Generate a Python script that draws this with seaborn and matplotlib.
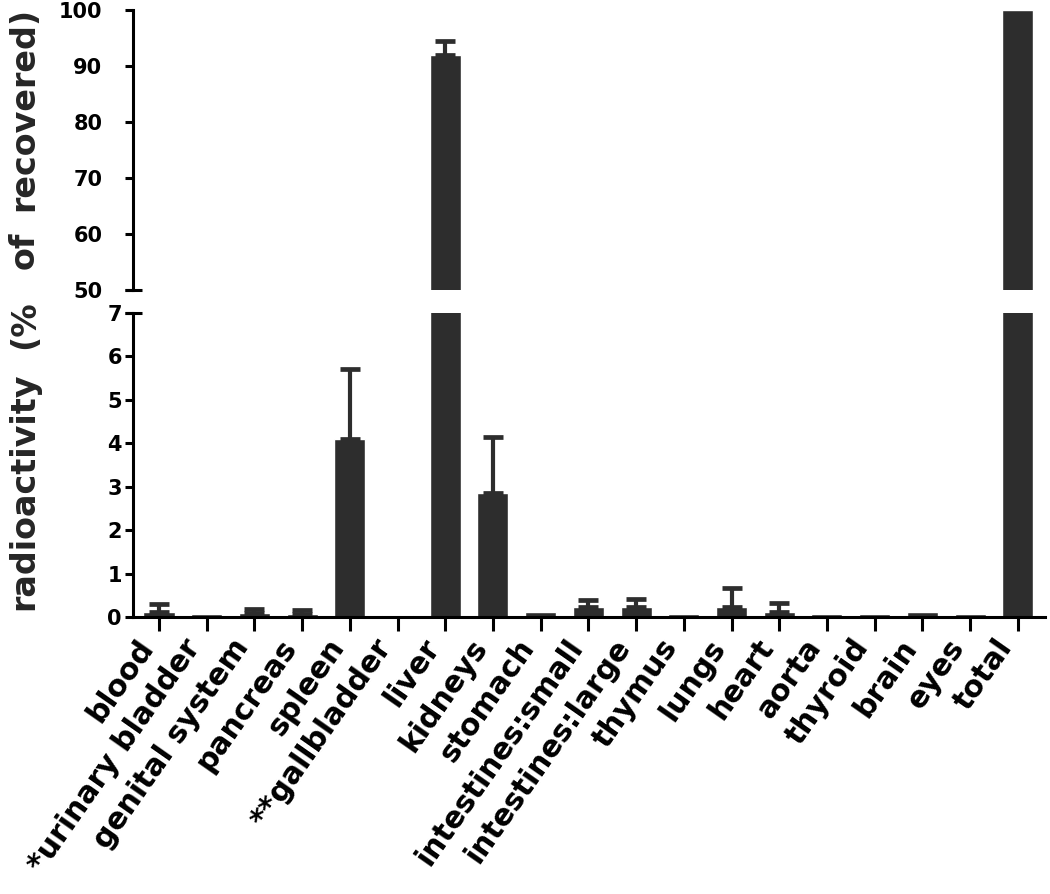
import numpy as np
import pandas as pd
import matplotlib
matplotlib.use("Agg")
import matplotlib.pyplot as plt
import seaborn as sns

organs = ["blood", "*urinary bladder", "genital system", "pancreas", "spleen",
          "**gallbladder", "liver", "kidneys", "stomach", "intestines:small",
          "intestines:large", "thymus", "lungs", "heart", "aorta", "thyroid",
          "brain", "eyes", "total"]
means = np.array([0.11, 0.07, 0.10, 0.08, 4.1, 0.05, 92.0, 2.85, 0.12, 0.22,
                  0.22, 0.07, 0.24, 0.12, 0.07, 0.07, 0.11, 0.07, 100.0])
errs = np.array([0.20, 0.0, 0.08, 0.08, 1.6, 0.0, 2.5, 1.3, 0.0, 0.16,
                 0.20, 0.0, 0.43, 0.20, 0.0, 0.0, 0.0, 0.0, 0.0])

top_ticks = [50, 60, 70, 80, 90, 100]
bot_ticks = [0, 1, 2, 3, 4, 5, 6, 7]
ylabel_words = ["radioactivity", "(%", "of", "recovered)"]

sns.set_theme(style="ticks")
plt.rcParams['font.family'] = ['DejaVu Sans']
plt.rcParams['font.weight'] = 'bold'

W, H = 1050, 894
fig = plt.figure(figsize=(W / 100, H / 100), dpi=100)
L = 133 / W
R = 1045 / W
ax_top = fig.add_axes([L, 1 - 290 / H, R - L, 280 / H])
ax_bot = fig.add_axes([L, 1 - 617 / H, R - L, 304 / H])

df = pd.DataFrame({"organ": organs, "value": means})
color = "#2d2d2d"
x = np.arange(len(organs))
mask = errs > 0

for ax in (ax_top, ax_bot):
    sns.barplot(data=df, x="organ", y="value", color=color, width=0.65,
                saturation=1, errorbar=None, ax=ax)
    ax.errorbar(x[mask], means[mask],
                yerr=[np.zeros(mask.sum()), errs[mask]],
                fmt="none", ecolor=color, elinewidth=3.0, capsize=7.5,
                capthick=3.4)
    ax.set_xlim(-0.545, 18.57)
    ax.set_xlabel("")
    ax.set_ylabel("")
    for s in ("top", "right"):
        ax.spines[s].set_visible(False)
    for s in ("left", "bottom"):
        ax.spines[s].set_linewidth(2.2)
        ax.spines[s].set_color("black")

# top panel
ax_top.set_ylim(50, 100)
ax_top.set_yticks(top_ticks)
ax_top.set_yticklabels([str(t) for t in top_ticks], fontsize=15, fontweight="bold")
ax_top.spines["bottom"].set_visible(False)
ax_top.tick_params(axis="x", bottom=False, labelbottom=False)
ax_top.tick_params(axis="y", direction="out", length=6, width=2.2, pad=16, colors="black")

# bottom panel
ax_bot.set_ylim(0, 7)
ax_bot.set_yticks(bot_ticks)
ax_bot.set_yticklabels([str(t) for t in bot_ticks], fontsize=15, fontweight="bold")
ax_bot.tick_params(axis="y", direction="out", length=6, width=2.2, pad=2, colors="black")
ax_bot.set_xticks(x)
ax_bot.set_xticklabels(organs, rotation=55, ha="right", va="bottom",
                       rotation_mode="anchor", fontsize=21.5, fontweight="bold")
ax_bot.tick_params(axis="x", direction="out", length=10, width=2.2, pad=14, colors="black")

# axis break marks
ax_top.plot([-0.009, 0.010], [0, 0], transform=ax_top.transAxes, color="black",
            lw=2.2, clip_on=False, solid_capstyle="butt")
ax_bot.plot([-0.009, 0.010], [1, 1], transform=ax_bot.transAxes, color="black",
            lw=2.2, clip_on=False, solid_capstyle="butt")

# justified y-axis label (words spread along the full height)
word_centers_px = [491, 325, 250, 109]
for word, yc in zip(ylabel_words, word_centers_px):
    fig.text(0.023, 1 - yc / H, word, rotation=90, va="center", ha="center",
             fontsize=24, fontweight="bold")

fig.savefig("out.png", dpi=100, facecolor="white")
